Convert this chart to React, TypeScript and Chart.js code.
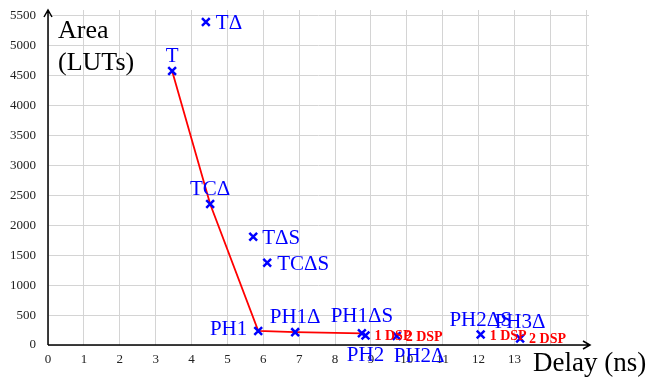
import { useEffect, useRef } from 'react';
import { Chart, registerables } from 'chart.js';

Chart.register(...registerables);

// ---- data ----
const designNames = ['T', 'TΔ', 'TCΔ', 'TΔS', 'TCΔS', 'PH1', 'PH1Δ', 'PH1ΔS', 'PH2', 'PH2Δ', 'PH2ΔS', 'PH3Δ'];
const delayNs = [3.46, 4.4, 4.52, 5.72, 6.11, 5.86, 6.89, 8.75, 8.85, 9.72, 12.06, 13.16];
const areaLuts = [4580, 5400, 2357, 1810, 1376, 235, 215, 195, 160, 150, 175, 110];
const frontierNames = ['T', 'TCΔ', 'PH1', 'PH1Δ', 'PH1ΔS'];
const dspNoteDesigns = ['PH2', 'PH2Δ', 'PH2ΔS', 'PH3Δ'];
const dspNoteTexts = ['1 DSP', '2 DSP', '1 DSP', '2 DSP'];
const xGridValues = [0, 1, 2, 3, 4, 5, 6, 7, 8, 9, 10, 11, 12, 13, 14, 15];
const xLabelMax = 13;
const yGridValues = [0, 500, 1000, 1500, 2000, 2500, 3000, 3500, 4000, 4500, 5000, 5500];

// label placement relative to each marker (annotation layout)
const labelPlacement: Record<string, { dx: number; dy: number; align: CanvasTextAlign }> = {
  'T': { dx: 0, dy: -9, align: 'center' },
  'TΔ': { dx: 10, dy: 7, align: 'left' },
  'TCΔ': { dx: 0, dy: -9, align: 'center' },
  'TΔS': { dx: 9, dy: 7, align: 'left' },
  'TCΔS': { dx: 10, dy: 7, align: 'left' },
  'PH1': { dx: -11, dy: 4, align: 'right' },
  'PH1Δ': { dx: 0, dy: -9, align: 'center' },
  'PH1ΔS': { dx: 0, dy: -11, align: 'center' },
  'PH2': { dx: 0, dy: 26, align: 'center' },
  'PH2Δ': { dx: -3, dy: 26, align: 'left' },
  'PH2ΔS': { dx: 0, dy: -9, align: 'center' },
  'PH3Δ': { dx: 0, dy: -10, align: 'center' },
};

const SERIF = '"Liberation Serif", "DejaVu Serif", serif';

const annotations = {
  id: 'annotations',
  afterDatasetsDraw(chart: any) {
    const ctx = chart.ctx as CanvasRenderingContext2D;
    const meta = chart.getDatasetMeta(0);
    ctx.save();
    ctx.textBaseline = 'alphabetic';
    meta.data.forEach((pt: any, i: number) => {
      const name = designNames[i];
      const p = labelPlacement[name];
      ctx.font = `21px ${SERIF}`;
      ctx.fillStyle = '#0000ff';
      ctx.textAlign = p.align;
      ctx.fillText(name, pt.x + p.dx, pt.y + p.dy);
      const k = dspNoteDesigns.indexOf(name);
      if (k >= 0) {
        ctx.font = `bold 14px ${SERIF}`;
        ctx.fillStyle = '#ff0000';
        ctx.textAlign = 'left';
        ctx.fillText(dspNoteTexts[k], pt.x + 9, pt.y + 5);
      }
    });
    ctx.restore();
  },
  afterDraw(chart: any) {
    const ctx = chart.ctx as CanvasRenderingContext2D;
    const a = chart.chartArea;
    ctx.save();
    ctx.strokeStyle = '#000';
    ctx.lineWidth = 1.5;
    const tipX = a.right + 1;
    ctx.beginPath();
    ctx.moveTo(a.left, a.bottom);
    ctx.lineTo(tipX, a.bottom);
    ctx.moveTo(tipX - 7, a.bottom - 4);
    ctx.lineTo(tipX, a.bottom);
    ctx.lineTo(tipX - 7, a.bottom + 4);
    ctx.stroke();
    const tipY = a.top;
    ctx.beginPath();
    ctx.moveTo(a.left, a.bottom);
    ctx.lineTo(a.left, tipY);
    ctx.moveTo(a.left - 4, tipY + 7);
    ctx.lineTo(a.left, tipY);
    ctx.lineTo(a.left + 4, tipY + 7);
    ctx.stroke();
    ctx.fillStyle = '#000';
    ctx.textAlign = 'left';
    ctx.textBaseline = 'alphabetic';
    ctx.font = `26px ${SERIF}`;
    ctx.fillText('Area', a.left + 10, 38);
    ctx.fillText('(LUTs)', a.left + 10, 70);
    ctx.font = `27px ${SERIF}`;
    ctx.fillText('Delay (ns)', a.right - 56, 371);
    ctx.restore();
  },
};

export default function App() {
  const ref = useRef<HTMLCanvasElement>(null);
  useEffect(() => {
    if (!ref.current) return;
    const points = delayNs.map((x, i) => ({ x, y: areaLuts[i] }));
    const frontier = frontierNames.map((n) => {
      const i = designNames.indexOf(n);
      return { x: delayNs[i], y: areaLuts[i] };
    });
    const chart = new Chart(ref.current, {
      type: 'scatter',
      data: {
        datasets: [
          {
            data: points,
            pointStyle: 'crossRot',
            pointRadius: 5.5,
            pointBorderWidth: 2.5,
            borderColor: '#0000ff',
            backgroundColor: '#0000ff',
            showLine: false,
          } as any,
          {
            data: frontier,
            showLine: true,
            borderColor: '#ff0000',
            borderWidth: 1.8,
            pointRadius: 0,
          } as any,
        ],
      },
      plugins: [annotations],
      options: {
        animation: false,
        responsive: false,
        devicePixelRatio: 1,
        layout: { padding: { top: 10, right: 59, left: 0, bottom: 0 } },
        plugins: { legend: { display: false }, tooltip: { enabled: false } },
        scales: {
          x: {
            type: 'linear',
            min: 0,
            max: 15.08,
            afterBuildTicks: (s: any) => { s.ticks = xGridValues.map((value) => ({ value })); },
            afterFit: (s: any) => { s.height = 34; s.paddingLeft = 0; s.paddingRight = 0; },
            border: { display: false },
            grid: { color: '#d4d4d4', lineWidth: 1, drawTicks: false },
            ticks: {
              autoSkip: false,
              maxRotation: 0,
              padding: 7,
              color: '#222',
              font: { family: SERIF, size: 13 },
              callback: (v: any) => (v <= xLabelMax ? String(v) : ''),
            },
          },
          y: {
            type: 'linear',
            min: 0,
            max: 5600,
            afterBuildTicks: (s: any) => { s.ticks = yGridValues.map((value) => ({ value })); },
            afterFit: (s: any) => { s.width = 48; s.paddingTop = 0; s.paddingBottom = 0; },
            border: { display: false },
            grid: { color: '#d4d4d4', lineWidth: 1, drawTicks: false },
            ticks: {
              autoSkip: false,
              padding: 12,
              color: '#222',
              font: { family: SERIF, size: 13 },
              callback: (v: any) => String(v),
            },
          },
        },
      },
    });
    return () => chart.destroy();
  }, []);
  return (
    <div style={{ position: 'absolute', left: 0, top: 0, width: 648, height: 379, background: '#fff' }}>
      <canvas ref={ref} width={648} height={379} />
    </div>
  );
}
